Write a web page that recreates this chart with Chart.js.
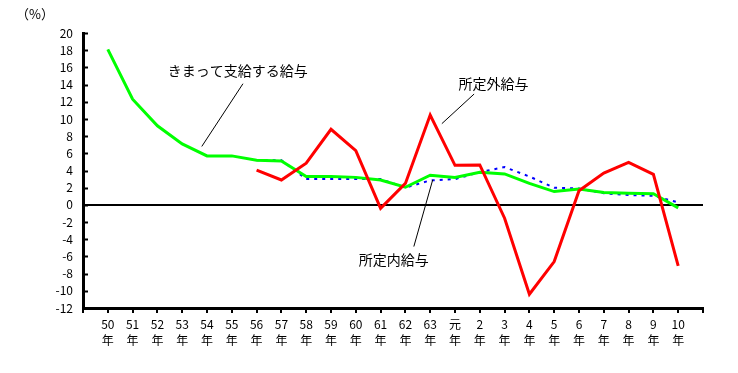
<!DOCTYPE html>
<html>
<head>
<meta charset="utf-8">
<script src="https://cdn.jsdelivr.net/npm/chart.js@4/dist/chart.umd.min.js"></script>
<style>
  html, body { margin: 0; padding: 0; background: #fff; }
  #wrap { width: 738px; height: 373px; position: relative; }
</style>
</head>
<body>
<div id="wrap"><canvas id="c"></canvas></div>
<script>
const years = ['50', '51', '52', '53', '54', '55', '56', '57', '58', '59', '60', '61', '62', '63', '元', '2', '3', '4', '5', '6', '7', '8', '9', '10'];

// きまって支給する給与
const contractual = [18.1, 12.3, 9.2, 7.1, 5.7, 5.7, 5.2, 5.1, 3.3, 3.3, 3.2, 2.9, 2.05, 3.45, 3.2, 3.8, 3.6, 2.5, 1.55, 1.85, 1.45, 1.35, 1.3, -0.35];
// 所定内給与
const scheduled = [null, null, null, null, null, null, 5.2, 5.2, 3.0, 3.0, 3.0, 3.0, 2.0, 2.85, 3.0, 3.8, 4.4, 3.3, 2.0, 1.9, 1.35, 1.15, 1.05, 0.3];
// 所定外給与
const overtime = [null, null, null, null, null, null, 4.05, 2.9, 4.85, 8.8, 6.3, -0.4, 2.5, 10.45, 4.6, 4.65, -1.55, -10.4, -6.6, 1.65, 3.7, 4.95, 3.55, -7.1];

const yTicks = { min: -12, max: 20, step: 2 };

// callouts in data units: label centre, leader start, leader end
const callouts = [
    { text: 'きまって支給する給与', at: [5.24, 15.6], from: [5.45, 14.1], to: [3.79, 6.8] },
    { text: '所定外給与', at: [15.55, 14.1], from: [14.77, 12.9], to: [13.47, 9.45] },
    { text: '所定内給与', at: [11.53, -6.4], from: [12.34, -4.85], to: [13.1, 2.9] }
];

const jp = '"Noto Sans CJK JP", "DejaVu Sans", sans-serif';

function toPoints(arr) {
    return arr.map((v, i) => ({ x: i, y: v }));
}

const extras = {
    id: 'extras',
    afterDraw(chart) {
        const { ctx, chartArea, scales: { x, y } } = chart;
        ctx.save();
        // inward y tick marks
        ctx.strokeStyle = '#000';
        ctx.lineWidth = 2;
        for (let v = yTicks.min; v <= yTicks.max; v += yTicks.step) {
            const py = Math.round(y.getPixelForValue(v)) + 0.5;
            ctx.beginPath();
            ctx.moveTo(chartArea.left, py);
            ctx.lineTo(chartArea.left + 5, py);
            ctx.stroke();
        }
        // unit
        ctx.fillStyle = '#000';
        ctx.font = '13px ' + jp;
        ctx.textAlign = 'center';
        ctx.textBaseline = 'middle';
        ctx.fillText('（%）', chartArea.left - 48, chartArea.top - 19);
        // callouts
        ctx.font = '14px ' + jp;
        ctx.lineWidth = 1;
        callouts.forEach(c => {
            ctx.fillText(c.text, x.getPixelForValue(c.at[0]), y.getPixelForValue(c.at[1]));
            ctx.beginPath();
            ctx.moveTo(x.getPixelForValue(c.from[0]), y.getPixelForValue(c.from[1]));
            ctx.lineTo(x.getPixelForValue(c.to[0]), y.getPixelForValue(c.to[1]));
            ctx.stroke();
        });
        ctx.restore();
    }
};

new Chart(document.getElementById('c'), {
    type: 'line',
    data: {
        datasets: [
            {
                label: '所定外給与',
                data: toPoints(overtime),
                borderColor: '#ff0000',
                borderWidth: 3,
                pointRadius: 0,
                tension: 0
            },
            {
                label: 'きまって支給する給与',
                data: toPoints(contractual),
                borderColor: '#00ff00',
                borderWidth: 3,
                pointRadius: 0,
                tension: 0
            },
            {
                label: '所定内給与',
                data: toPoints(scheduled),
                borderColor: '#0000ff',
                borderWidth: 2,
                borderDash: [3, 5],
                pointRadius: 0,
                tension: 0
            }
        ]
    },
    options: {
        responsive: true,
        maintainAspectRatio: false,
        animation: false,
        layout: { padding: { top: 33, right: 35, left: 0, bottom: 0 } },
        plugins: {
            legend: { display: false },
            tooltip: { enabled: false }
        },
        scales: {
            x: {
                type: 'linear',
                min: -1,
                max: years.length,
                afterFit: s => { s.height = 65; },
                afterBuildTicks: s => {
                    s.ticks = [];
                    for (let i = -1; i <= years.length; i++) s.ticks.push({ value: i });
                },
                border: { color: '#000', width: 3 },
                grid: { drawOnChartArea: false, drawTicks: true, tickLength: 5, color: '#000', lineWidth: 2 },
                ticks: {
                    autoSkip: false,
                    maxRotation: 0,
                    color: '#000',
                    padding: 3,
                    font: { family: jp, size: 12, lineHeight: 1.35 },
                    callback: v => (v >= 0 && v < years.length) ? [years[v], '年'] : ''
                }
            },
            y: {
                min: yTicks.min,
                max: yTicks.max,
                afterFit: s => { s.width = 83; },
                border: { color: '#000', width: 3 },
                grid: {
                    drawTicks: false,
                    color: c => c.tick && c.tick.value === 0 ? '#000' : 'rgba(0,0,0,0)',
                    lineWidth: c => c.tick && c.tick.value === 0 ? 2 : 0
                },
                ticks: {
                    stepSize: yTicks.step,
                    autoSkip: false,
                    color: '#000',
                    padding: 10,
                    font: { family: jp, size: 12 }
                }
            }
        }
    },
    plugins: [extras]
});
</script>
</body>
</html>
